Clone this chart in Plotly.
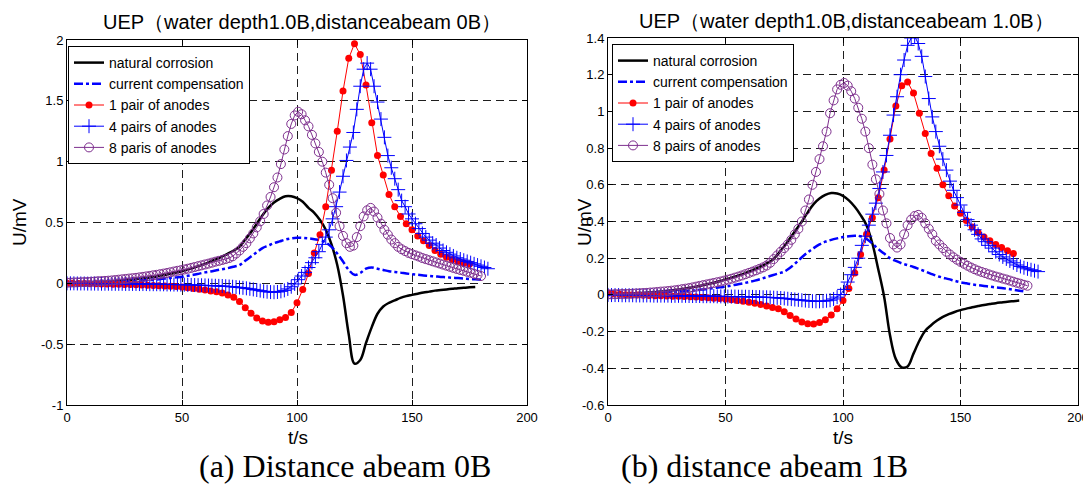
import plotly.graph_objects as go

# ---------------- data ----------------
STEP_LINE = 2.5     # sample spacing (s) of line / red-dot series
STEP_DENSE = 1.5    # sample spacing (s) of '+' and 'o' series

legend_names_a = ["natural corrosion", "current compensation", "1 pair of anodes",
                  "4 pairs of anodes", "8 paris of anodes"]
legend_names_b = ["natural corrosion", "current compensation", "1 pair of anodes",
                  "4 pairs of anodes", "8 pairs of anodes"]

x_ticks = [0, 50, 100, 150, 200]
y_ticks_a = [-1, -0.5, 0, 0.5, 1, 1.5, 2]
y_ticklabels_a = ["-1", "-0.5", "0", "0.5", "1", "1.5", "2"]
y_ticks_b = [-0.6, -0.4, -0.2, 0, 0.2, 0.4, 0.6, 0.8, 1, 1.2, 1.4]
y_ticklabels_b = ["-0.6", "-0.4", "-0.2", "0", "0.2", "0.4", "0.6", "0.8", "1", "1.2", "1.4"]

# panel (a): distance abeam 0B
a_natural = [0.003, 0.004, 0.005, 0.007, 0.008, 0.010, 0.012, 0.015, 0.018, 0.021,
             0.025, 0.029, 0.033, 0.039, 0.045, 0.052, 0.060, 0.069, 0.078, 0.089,
             0.100, 0.113, 0.127, 0.143, 0.160, 0.180, 0.200, 0.222, 0.245, 0.270,
             0.300, 0.360, 0.420, 0.490, 0.560, 0.620, 0.665, 0.695, 0.715, 0.715,
             0.700, 0.670, 0.620, 0.580, 0.520, 0.440, 0.320, 0.150, -0.100, -0.420,
             -0.660, -0.630, -0.490, -0.360, -0.250, -0.190, -0.160, -0.140, -0.120, -0.105,
             -0.095, -0.085, -0.075, -0.068, -0.060, -0.055, -0.050, -0.045, -0.040, -0.036,
             -0.033, -0.030]
a_current = [0.000, 0.001, 0.002, 0.003, 0.004, 0.005, 0.007, 0.008, 0.010, 0.012,
             0.015, 0.017, 0.020, 0.023, 0.026, 0.030, 0.034, 0.039, 0.044, 0.049,
             0.054, 0.062, 0.070, 0.080, 0.090, 0.098, 0.107, 0.116, 0.125, 0.137,
             0.150, 0.185, 0.220, 0.255, 0.290, 0.310, 0.330, 0.345, 0.360, 0.370,
             0.375, 0.374, 0.370, 0.363, 0.355, 0.335, 0.300, 0.245, 0.180, 0.110,
             0.070, 0.085, 0.120, 0.130, 0.120, 0.110, 0.100, 0.094, 0.088, 0.081,
             0.075, 0.070, 0.065, 0.061, 0.057, 0.053, 0.050, 0.046, 0.043, 0.040,
             0.036, 0.033, 0.030]
a_pair1 = [0.000, 0.000, -0.001, -0.002, -0.003, -0.004, -0.005, -0.006, -0.007, -0.008,
           -0.009, -0.010, -0.011, -0.013, -0.015, -0.017, -0.019, -0.021, -0.024, -0.027,
           -0.031, -0.036, -0.042, -0.048, -0.055, -0.062, -0.070, -0.080, -0.095, -0.115,
           -0.150, -0.200, -0.245, -0.285, -0.310, -0.320, -0.315, -0.300, -0.280, -0.240,
           -0.160, -0.050, 0.080, 0.250, 0.400, 0.630, 0.930, 1.250, 1.580, 1.850,
           1.970, 1.880, 1.630, 1.320, 1.050, 0.890, 0.730, 0.630, 0.550, 0.490,
           0.440, 0.390, 0.350, 0.310, 0.270, 0.240, 0.215, 0.195, 0.180, 0.168,
           0.158]
a_pair4 = [0.000, 0.000, 0.000, -0.001, -0.001, -0.001, -0.002, -0.002, -0.002, -0.003,
           -0.003, -0.003, -0.003, -0.004, -0.004, -0.004, -0.004, -0.005, -0.005, -0.005,
           -0.005, -0.006, -0.006, -0.006, -0.007, -0.007, -0.007, -0.008, -0.008, -0.009,
           -0.009, -0.010, -0.010, -0.011, -0.011, -0.012, -0.013, -0.014, -0.015, -0.016,
           -0.017, -0.018, -0.019, -0.020, -0.021, -0.022, -0.024, -0.026, -0.028, -0.031,
           -0.034, -0.037, -0.041, -0.045, -0.050, -0.055, -0.060, -0.065, -0.069, -0.072,
           -0.073, -0.071, -0.066, -0.058, -0.046, -0.028, -0.005, 0.030, 0.060, 0.090,
           0.130, 0.170, 0.210, 0.260, 0.320, 0.380, 0.440, 0.530, 0.630, 0.750,
           0.880, 1.010, 1.120, 1.240, 1.430, 1.620, 1.760, 1.810, 1.760, 1.620,
           1.490, 1.350, 1.200, 1.050, 0.950, 0.860, 0.770, 0.680, 0.630, 0.570,
           0.530, 0.490, 0.450, 0.410, 0.380, 0.355, 0.330, 0.315, 0.290, 0.270,
           0.255, 0.240, 0.225, 0.210, 0.200, 0.190, 0.180, 0.170, 0.160, 0.150,
           0.140, 0.130, 0.120]
a_pair8 = [0.005, 0.006, 0.007, 0.008, 0.009, 0.010, 0.011, 0.013, 0.015, 0.017,
           0.018, 0.020, 0.022, 0.024, 0.027, 0.030, 0.033, 0.036, 0.039, 0.042,
           0.045, 0.049, 0.053, 0.057, 0.061, 0.066, 0.070, 0.075, 0.080, 0.085,
           0.091, 0.097, 0.103, 0.108, 0.114, 0.120, 0.127, 0.134, 0.141, 0.148,
           0.155, 0.162, 0.170, 0.178, 0.185, 0.192, 0.200, 0.208, 0.222, 0.245,
           0.270, 0.300, 0.330, 0.370, 0.410, 0.460, 0.510, 0.570, 0.640, 0.710,
           0.790, 0.870, 0.980, 1.100, 1.210, 1.310, 1.380, 1.410, 1.390, 1.340,
           1.290, 1.220, 1.150, 1.080, 1.000, 0.910, 0.810, 0.700, 0.580, 0.470,
           0.390, 0.330, 0.300, 0.310, 0.380, 0.470, 0.550, 0.600, 0.620, 0.590,
           0.540, 0.490, 0.440, 0.400, 0.360, 0.330, 0.300, 0.280, 0.265, 0.250,
           0.240, 0.230, 0.220, 0.208, 0.199, 0.190, 0.181, 0.172, 0.163, 0.154,
           0.145, 0.136, 0.127, 0.118, 0.110, 0.103, 0.095, 0.087, 0.078, 0.069,
           0.060]

# panel (b): distance abeam 1B
b_natural = [0.003, 0.004, 0.005, 0.006, 0.007, 0.009, 0.011, 0.013, 0.015, 0.018,
             0.021, 0.025, 0.029, 0.034, 0.039, 0.045, 0.052, 0.059, 0.066, 0.074,
             0.083, 0.093, 0.103, 0.114, 0.126, 0.140, 0.155, 0.172, 0.190, 0.225,
             0.265, 0.310, 0.355, 0.400, 0.450, 0.495, 0.525, 0.545, 0.555, 0.553,
             0.540, 0.515, 0.480, 0.435, 0.380, 0.280, 0.140, -0.010, -0.220, -0.350,
             -0.395, -0.390, -0.320, -0.250, -0.195, -0.165, -0.140, -0.120, -0.105, -0.093,
             -0.083, -0.075, -0.067, -0.061, -0.055, -0.050, -0.045, -0.041, -0.037, -0.034,
             -0.031]
b_current = [0.000, 0.001, 0.002, 0.003, 0.004, 0.005, 0.006, 0.007, 0.009, 0.011,
             0.013, 0.015, 0.017, 0.020, 0.023, 0.026, 0.029, 0.033, 0.037, 0.041,
             0.045, 0.051, 0.057, 0.063, 0.070, 0.078, 0.087, 0.097, 0.107, 0.117,
             0.127, 0.148, 0.175, 0.205, 0.232, 0.255, 0.275, 0.290, 0.300, 0.308,
             0.315, 0.320, 0.322, 0.320, 0.305, 0.280, 0.250, 0.225, 0.200, 0.185,
             0.172, 0.162, 0.152, 0.140, 0.128, 0.115, 0.103, 0.094, 0.086, 0.077,
             0.069, 0.063, 0.057, 0.053, 0.049, 0.045, 0.041, 0.037, 0.033, 0.028,
             0.023, 0.018]
b_pair1 = [0.010, 0.006, 0.003, 0.001, 0.000, -0.001, -0.002, -0.003, -0.004, -0.005,
           -0.006, -0.007, -0.008, -0.009, -0.010, -0.012, -0.014, -0.016, -0.018, -0.020,
           -0.023, -0.027, -0.031, -0.035, -0.040, -0.046, -0.052, -0.060, -0.068, -0.076,
           -0.092, -0.112, -0.132, -0.148, -0.157, -0.158, -0.150, -0.135, -0.110, -0.075,
           -0.030, 0.035, 0.120, 0.220, 0.330, 0.420, 0.530, 0.680, 0.850, 1.030,
           1.140, 1.160, 1.100, 0.990, 0.880, 0.770, 0.690, 0.600, 0.540, 0.485,
           0.445, 0.405, 0.370, 0.340, 0.315, 0.295, 0.275, 0.258, 0.240, 0.225]
b_pair4 = [0.000, -0.001, -0.001, -0.001, -0.002, -0.002, -0.002, -0.002, -0.003, -0.003,
           -0.003, -0.003, -0.003, -0.004, -0.004, -0.004, -0.004, -0.004, -0.005, -0.005,
           -0.005, -0.005, -0.005, -0.006, -0.006, -0.006, -0.006, -0.007, -0.007, -0.007,
           -0.007, -0.008, -0.008, -0.008, -0.009, -0.009, -0.009, -0.010, -0.010, -0.010,
           -0.011, -0.011, -0.012, -0.012, -0.013, -0.013, -0.014, -0.015, -0.016, -0.017,
           -0.019, -0.021, -0.023, -0.025, -0.027, -0.029, -0.031, -0.033, -0.034, -0.035,
           -0.035, -0.034, -0.032, -0.029, -0.022, -0.012, 0.002, 0.030, 0.070, 0.110,
           0.150, 0.200, 0.270, 0.320, 0.380, 0.440, 0.500, 0.580, 0.670, 0.760,
           0.870, 0.980, 1.080, 1.200, 1.280, 1.360, 1.400, 1.410, 1.370, 1.300,
           1.190, 1.070, 0.970, 0.890, 0.810, 0.740, 0.680, 0.620, 0.570, 0.530,
           0.490, 0.450, 0.410, 0.380, 0.355, 0.330, 0.305, 0.290, 0.270, 0.255,
           0.235, 0.220, 0.207, 0.196, 0.185, 0.175, 0.163, 0.155, 0.148, 0.142,
           0.137, 0.132, 0.127]
b_pair8 = [0.003, 0.003, 0.004, 0.004, 0.005, 0.005, 0.006, 0.007, 0.008, 0.009,
           0.010, 0.011, 0.013, 0.014, 0.016, 0.018, 0.019, 0.021, 0.023, 0.025,
           0.028, 0.031, 0.034, 0.037, 0.041, 0.045, 0.049, 0.053, 0.057, 0.061,
           0.065, 0.069, 0.073, 0.078, 0.083, 0.088, 0.094, 0.100, 0.106, 0.113,
           0.120, 0.127, 0.134, 0.142, 0.150, 0.160, 0.175, 0.195, 0.215, 0.235,
           0.255, 0.275, 0.300, 0.330, 0.360, 0.400, 0.460, 0.520, 0.600, 0.670,
           0.740, 0.810, 0.890, 0.990, 1.060, 1.120, 1.145, 1.155, 1.140, 1.110,
           1.070, 1.020, 0.960, 0.890, 0.800, 0.710, 0.630, 0.550, 0.460, 0.390,
           0.310, 0.275, 0.258, 0.275, 0.330, 0.380, 0.410, 0.430, 0.436, 0.420,
           0.390, 0.360, 0.330, 0.295, 0.275, 0.255, 0.235, 0.220, 0.205, 0.192,
           0.180, 0.170, 0.159, 0.149, 0.140, 0.132, 0.125, 0.119, 0.112, 0.106,
           0.100, 0.095, 0.089, 0.084, 0.078, 0.072, 0.066, 0.061, 0.055, 0.050]

titles = ["UEP（water depth1.0B,distanceabeam 0B）", "UEP（water depth1.0B,distanceabeam 1.0B）"]
captions = ["(a) Distance abeam 0B", "(b) distance abeam 1B"]


def tgrid(vals, step):
    return [i * step for i in range(len(vals))]


# ---------------- layout geometry ----------------
# The page body has an 8px default margin, so the figure is drawn 8px in from the
# window's top-left corner; size the figure to what remains visible.
OFF = 8
W, H = 1091 - OFF, 491 - OFF


def px(xp):
    return (xp - OFF) / W


def py(yp):
    return 1 - (yp - OFF) / H


SANS = "Arial, Liberation Sans, Helvetica, sans-serif"
SERIF = "Times New Roman, Liberation Serif, serif"
BLACK, BLUE, RED, PURPLE = "#000000", "#0000FF", "#FF0000", "rgb(126,47,142)"

fig = go.Figure()


def add_panel(series, names, xa, ya, legend):
    nat, cur, p1, p4, p8 = series
    fig.add_trace(go.Scatter(x=tgrid(nat, STEP_LINE), y=nat, mode="lines", name=names[0],
                             line=dict(color=BLACK, width=2.5, shape="spline"),
                             xaxis=xa, yaxis=ya, legend=legend))
    fig.add_trace(go.Scatter(x=tgrid(cur, STEP_LINE), y=cur, mode="lines", name=names[1],
                             line=dict(color=BLUE, width=2.5, dash="9px,3px,3px,3px", shape="spline"),
                             xaxis=xa, yaxis=ya, legend=legend))
    fig.add_trace(go.Scatter(x=tgrid(p1, STEP_LINE), y=p1, mode="lines+markers", name=names[2],
                             line=dict(color=RED, width=1),
                             marker=dict(symbol="circle", size=7, color=RED),
                             xaxis=xa, yaxis=ya, legend=legend))
    fig.add_trace(go.Scatter(x=tgrid(p4, STEP_DENSE), y=p4, mode="lines+markers", name=names[3],
                             line=dict(color=BLUE, width=1),
                             marker=dict(symbol="cross-thin-open", size=10, color=BLUE,
                                         line=dict(color=BLUE, width=1)),
                             xaxis=xa, yaxis=ya, legend=legend))
    fig.add_trace(go.Scatter(x=tgrid(p8, STEP_DENSE), y=p8, mode="lines+markers", name=names[4],
                             line=dict(color=PURPLE, width=1),
                             marker=dict(symbol="circle-open", size=9, color=PURPLE,
                                         line=dict(color=PURPLE, width=1)),
                             xaxis=xa, yaxis=ya, legend=legend))


add_panel([a_natural, a_current, a_pair1, a_pair4, a_pair8], legend_names_a, "x", "y", "legend")
add_panel([b_natural, b_current, b_pair1, b_pair4, b_pair8], legend_names_b, "x2", "y2", "legend2")

axis_common = dict(showline=True, linecolor="black", linewidth=1, mirror="ticks",
                   ticks="inside", ticklen=5, tickcolor="black", automargin=False,
                   showgrid=True, gridcolor="rgb(30,30,30)", gridwidth=1, griddash="8px,5px",
                   zeroline=False, tickfont=dict(family=SANS, size=13, color="black"))

fig.update_layout(
    width=W, height=H,
    margin=dict(l=0, r=0, t=0, b=0, autoexpand=False),
    paper_bgcolor="white", plot_bgcolor="white",
    xaxis=dict(domain=[px(67), px(527)], range=[0, 200], tickvals=x_ticks, anchor="y", **axis_common),
    yaxis=dict(domain=[py(405), py(40)], range=[-1, 2], tickvals=y_ticks_a,
               ticktext=y_ticklabels_a, anchor="x", **axis_common),
    xaxis2=dict(domain=[px(608), px(1078)], range=[0, 200], tickvals=x_ticks, anchor="y2", **axis_common),
    yaxis2=dict(domain=[py(405), py(38)], range=[-0.6, 1.4], tickvals=y_ticks_b,
                ticktext=y_ticklabels_b, anchor="x2", **axis_common),
    legend=dict(x=px(68), y=py(46), xanchor="left", yanchor="top",
                bordercolor="black", borderwidth=1, bgcolor="white",
                font=dict(family=SANS, size=14, color="black"), tracegroupgap=0),
    legend2=dict(x=px(612), y=py(44), xanchor="left", yanchor="top",
                 bordercolor="black", borderwidth=1, bgcolor="white",
                 font=dict(family=SANS, size=14, color="black"), tracegroupgap=0),
    showlegend=True,
)

ann = [
    dict(text=titles[0], x=px(302), y=py(22)),
    dict(text=titles[1], x=px(846), y=py(21)),
]
for a in ann:
    a.update(font=dict(family=SANS, size=20, color="black"))
labels = [
    dict(text="U/mV", x=px(19), y=py(222), textangle=-90),
    dict(text="U/mV", x=px(584), y=py(222), textangle=-90),
    dict(text="t/s", x=px(298), y=py(437)),
    dict(text="t/s", x=px(843), y=py(437)),
]
for a in labels:
    a.update(font=dict(family=SANS, size=19, color="black"))
caps = [
    dict(text=captions[0], x=px(345), y=py(466)),
    dict(text=captions[1], x=px(764), y=py(466)),
]
for a in caps:
    a.update(font=dict(family=SERIF, size=32, color="black"))
for a in ann + labels + caps:
    a.update(xref="paper", yref="paper", xanchor="center", yanchor="middle", showarrow=False)
fig.update_layout(annotations=ann + labels + caps)

fig.write_html("out.html")
